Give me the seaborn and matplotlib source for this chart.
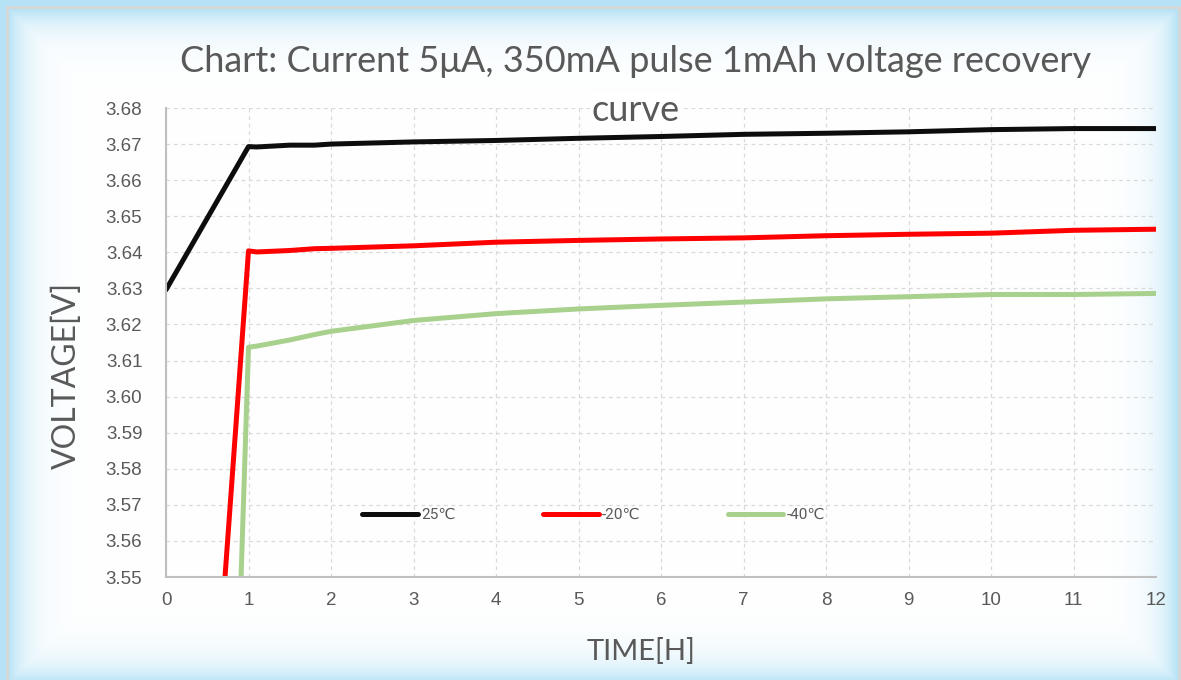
import numpy as np
import pandas as pd
import matplotlib
matplotlib.use("Agg")
import matplotlib.pyplot as plt
import seaborn as sns
from matplotlib.patches import Rectangle

# datos
hours = [0, 1, 1.1, 1.5, 1.8, 2, 3, 4, 5, 6, 7, 8, 9, 10, 11, 12]
v_25 = [3.6296, 3.6693, 3.6692, 3.6697, 3.6697, 3.6700, 3.6706, 3.6710,
        3.6716, 3.6721, 3.6727, 3.6730, 3.6734, 3.6740, 3.6743, 3.6743]
v_m20 = [3.323, 3.6404, 3.6401, 3.6405, 3.6410, 3.6411, 3.6418, 3.6428,
         3.6433, 3.6437, 3.6440, 3.6446, 3.6450, 3.6453, 3.6461, 3.6464]
v_m40 = [2.906, 3.6137, 3.6140, 3.6157, 3.6172, 3.6181, 3.6211, 3.6230,
         3.6243, 3.6253, 3.6262, 3.6271, 3.6277, 3.6283, 3.6283, 3.6286]
labels = ["25℃", "-20℃", "-40℃"]
colors = {"25℃": "#0d0d0d", "-20℃": "#ff0000", "-40℃": "#a9d18e"}
y_ticks = [3.55, 3.56, 3.57, 3.58, 3.59, 3.60, 3.61, 3.62, 3.63, 3.64, 3.65, 3.66, 3.67, 3.68]
x_ticks = list(range(0, 13))

df = pd.concat([
    pd.DataFrame({"t": hours, "v": v, "serie": lab})
    for v, lab in zip([v_25, v_m20, v_m40], labels)
])

sns.set_style("white")
plt.rcParams["font.family"] = ["Liberation Sans", "DejaVu Sans"]
gris = "#595959"

W, H = 1181, 680
fig = plt.figure(figsize=(W / 100, H / 100), dpi=100)

# fondo con brillo azul en los bordes
bg = fig.add_axes([0, 0, 1, 1])
yy, xx = np.mgrid[0:H, 0:W]
d = np.minimum.reduce([xx - 8, W - 4 - xx, yy - 9, H - yy + 2]).astype(float)
d = np.clip(d, 0, None)
a = np.exp(-d / 18.0) * 0.75
img = np.ones((H, W, 3))
edge = np.array([0.62, 0.85, 0.95])
img = img * (1 - a[..., None]) + edge * a[..., None]
bg.imshow(img, extent=[0, W, H, 0], aspect="auto")
bg.add_patch(Rectangle((7, 7), W - 9, H - 6, fill=False, ec="#d6d6d6", lw=2))
bg.set_xlim(0, W)
bg.set_ylim(H, 0)
bg.axis("off")

ax = fig.add_axes([166 / W, 1 - 577 / H, (1156 - 166) / W, (577 - 108) / H])
ax.patch.set_alpha(0)
sns.lineplot(data=df, x="t", y="v", hue="serie", palette=colors, ax=ax,
             linewidth=3.6, sort=False, estimator=None)
for ln in ax.get_lines():
    ln.set_solid_capstyle("round")
    ln.set_solid_joinstyle("round")

ax.set_xlim(0, 12)
ax.set_ylim(3.55, 3.68)
ax.set_xticks(x_ticks)
ax.set_yticks(y_ticks)
ax.set_yticklabels([f"{t:.2f}" for t in y_ticks])
ax.tick_params(length=0, labelsize=13.5, labelcolor=gris)
ax.tick_params(axis="y", pad=17)
ax.tick_params(axis="x", pad=11)
ax.grid(True, color="#d9d9d9", linestyle=(0, (3, 3)), linewidth=0.9)
for s in ["top", "right"]:
    ax.spines[s].set_visible(False)
for s in ["left", "bottom"]:
    ax.spines[s].set_color("#bfbfbf")
    ax.spines[s].set_linewidth(1.5)

ax.set_xlabel("TIME[H]", fontsize=21, color=gris, family="Lato")
ax.set_ylabel("VOLTAGE[V]", fontsize=23, color=gris, family="Lato")
ax.xaxis.set_label_coords(0.48, -0.13)
ax.yaxis.set_label_coords(-0.085, 0.43)

leg = ax.legend(loc="center", bbox_to_anchor=(0.432, 0.132), ncol=3, frameon=False,
                handlelength=3.66, handletextpad=0.2, columnspacing=5.7,
                prop={"family": ["Roboto", "DejaVu Sans"], "size": 11})
for t in leg.get_texts():
    t.set_color(gris)
for h in leg.legend_handles:
    h.set_linewidth(3.6)

fig.text(636 / W, 1 - 72 / H, "Chart: Current 5μA, 350mA pulse 1mAh voltage recovery",
         ha="center", va="baseline", fontsize=26, color=gris,
         family=["Lato", "DejaVu Sans"])
fig.text(636 / W, 1 - 121 / H, "curve", ha="center", va="baseline", fontsize=26,
         color=gris, family="Lato",
         bbox=dict(fc="white", ec="none", pad=1))

fig.savefig("out.png", dpi=100)
